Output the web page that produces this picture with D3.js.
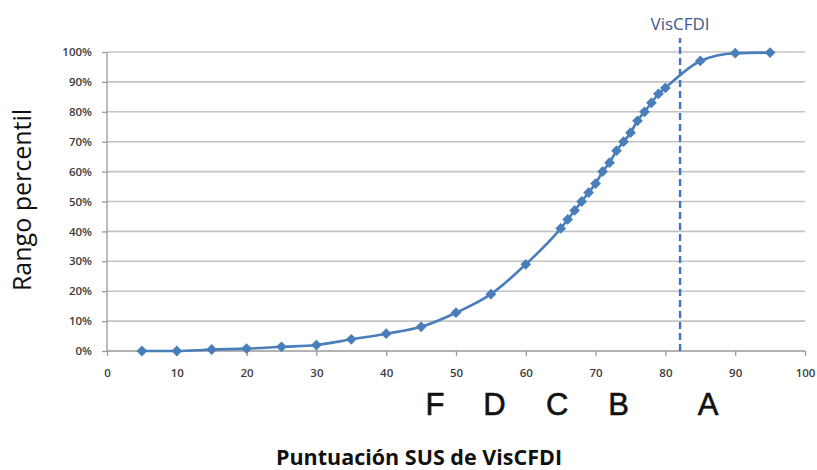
<!DOCTYPE html>
<html>
<head>
<meta charset="utf-8">
<script src="https://cdn.jsdelivr.net/npm/d3@7"></script>
<style>
  body { margin: 0; background: #fff; }
  svg { display: block; }
</style>
</head>
<body>
<div id="chart"></div>
<script>
const svgWidth = 817;
const svgHeight = 470;

const margin = { top: 52, right: 12, bottom: 119, left: 107 };
const width = svgWidth - margin.left - margin.right;
const height = svgHeight - margin.top - margin.bottom;

// SUS score vs percentile rank
const susScores = [5, 10, 15, 20, 25, 30, 35, 40, 45, 50, 55, 60,
    65, 66, 67, 68, 69, 70, 71, 72, 73, 74, 75, 76, 77, 78, 79, 80,
    85, 90, 95];
const percentiles = [0, 0, 0.005, 0.008, 0.014, 0.02, 0.039, 0.058, 0.081, 0.128, 0.19, 0.29,
    0.41, 0.44, 0.47, 0.50, 0.53, 0.56, 0.60, 0.63, 0.67, 0.70, 0.73, 0.77, 0.80, 0.83, 0.86, 0.88,
    0.97, 0.996, 0.998];

const xTicks = [0, 10, 20, 30, 40, 50, 60, 70, 80, 90, 100];
const yTicks = [0, 0.1, 0.2, 0.3, 0.4, 0.5, 0.6, 0.7, 0.8, 0.9, 1];

const grades = ["F", "D", "C", "B", "A"];
const gradePos = [47, 55.5, 64.5, 73.3, 86.1];

const visScore = 82.1;

const data = susScores.map((s, i) => ({ x: s, y: percentiles[i] }));

const xScale = d3.scaleLinear().domain([0, 100]).range([0, width]);
const yScale = d3.scaleLinear().domain([0, 1]).range([height, 0]);

const svg = d3.select("#chart").append("svg")
    .attr("width", svgWidth)
    .attr("height", svgHeight);

const chartGroup = svg.append("g")
    .attr("transform", `translate(${margin.left}, ${margin.top})`);

// horizontal gridlines
chartGroup.append("g")
    .selectAll("line")
    .data(yTicks.slice(1))
    .enter()
    .append("line")
    .attr("x1", 0)
    .attr("x2", width)
    .attr("y1", d => yScale(d))
    .attr("y2", d => yScale(d))
    .attr("stroke", "#c4c4c4")
    .attr("stroke-width", 1.6);

const axisX = chartGroup.append("g")
    .attr("transform", `translate(0, ${height})`)
    .call(d3.axisBottom(xScale).tickValues(xTicks).tickSize(5).tickPadding(13));

const axisY = chartGroup.append("g")
    .call(d3.axisLeft(yScale).tickValues(yTicks).tickSize(5).tickPadding(10)
        .tickFormat(d3.format(".0%")));

[axisX, axisY].forEach(a => {
    a.selectAll("path, line").attr("stroke", "#9a9a9a").attr("stroke-width", 1.3);
    a.selectAll("text")
        .attr("font-family", "'Open Sans', sans-serif")
        .attr("font-size", 11.5)
        .attr("font-weight", 600)
        .attr("fill", "#3c3c3c");
});
axisX.select(".domain").attr("d", `M0,0H${width}`);
axisY.select(".domain").attr("d", `M0,0V${height}`);

// VisCFDI marker line
chartGroup.append("line")
    .attr("x1", xScale(visScore))
    .attr("x2", xScale(visScore))
    .attr("y1", yScale(0))
    .attr("y2", yScale(1.047))
    .attr("stroke", "#4472c4")
    .attr("stroke-width", 2.4)
    .attr("stroke-dasharray", "7,4");

chartGroup.append("text")
    .attr("x", xScale(visScore))
    .attr("y", yScale(1.072))
    .attr("text-anchor", "middle")
    .attr("font-family", "'Open Sans', sans-serif")
    .attr("font-size", 17)
    .attr("fill", "#3b5a8c")
    .text("VisCFDI");

const line = d3.line()
    .x(d => xScale(d.x))
    .y(d => yScale(d.y))
    .curve(d3.curveMonotoneX);

chartGroup.append("path")
    .datum(data)
    .attr("fill", "none")
    .attr("stroke", "#4a7ebb")
    .attr("stroke-width", 2.6)
    .attr("d", line);

chartGroup.selectAll(".pt")
    .data(data)
    .enter()
    .append("path")
    .attr("class", "pt")
    .attr("transform", d => `translate(${xScale(d.x)}, ${yScale(d.y)}) rotate(45)`)
    .attr("d", d3.symbol().type(d3.symbolSquare).size(58))
    .attr("fill", "#4a7ebb");

// grade letters
chartGroup.selectAll(".grade")
    .data(grades)
    .enter()
    .append("text")
    .attr("class", "grade")
    .attr("x", (d, i) => xScale(gradePos[i]))
    .attr("y", height + 64)
    .attr("text-anchor", "middle")
    .attr("font-family", "'Liberation Sans', Arial, sans-serif")
    .attr("font-size", 31)
    .attr("fill", "#111")
    .attr("stroke", "#111")
    .attr("stroke-width", 0.6)
    .text(d => d);

svg.append("text")
    .attr("x", 419)
    .attr("y", 465)
    .attr("text-anchor", "middle")
    .attr("font-family", "'Open Sans', sans-serif")
    .attr("font-size", 21.5)
    .attr("font-weight", 700)
    .attr("fill", "#111")
    .text("Puntuación SUS de VisCFDI");

svg.append("text")
    .attr("transform", "translate(31, 200) rotate(-90)")
    .attr("text-anchor", "middle")
    .attr("font-family", "'Open Sans', sans-serif")
    .attr("font-size", 25)
    .attr("fill", "#111")
    .text("Rango percentil");
</script>
</body>
</html>
